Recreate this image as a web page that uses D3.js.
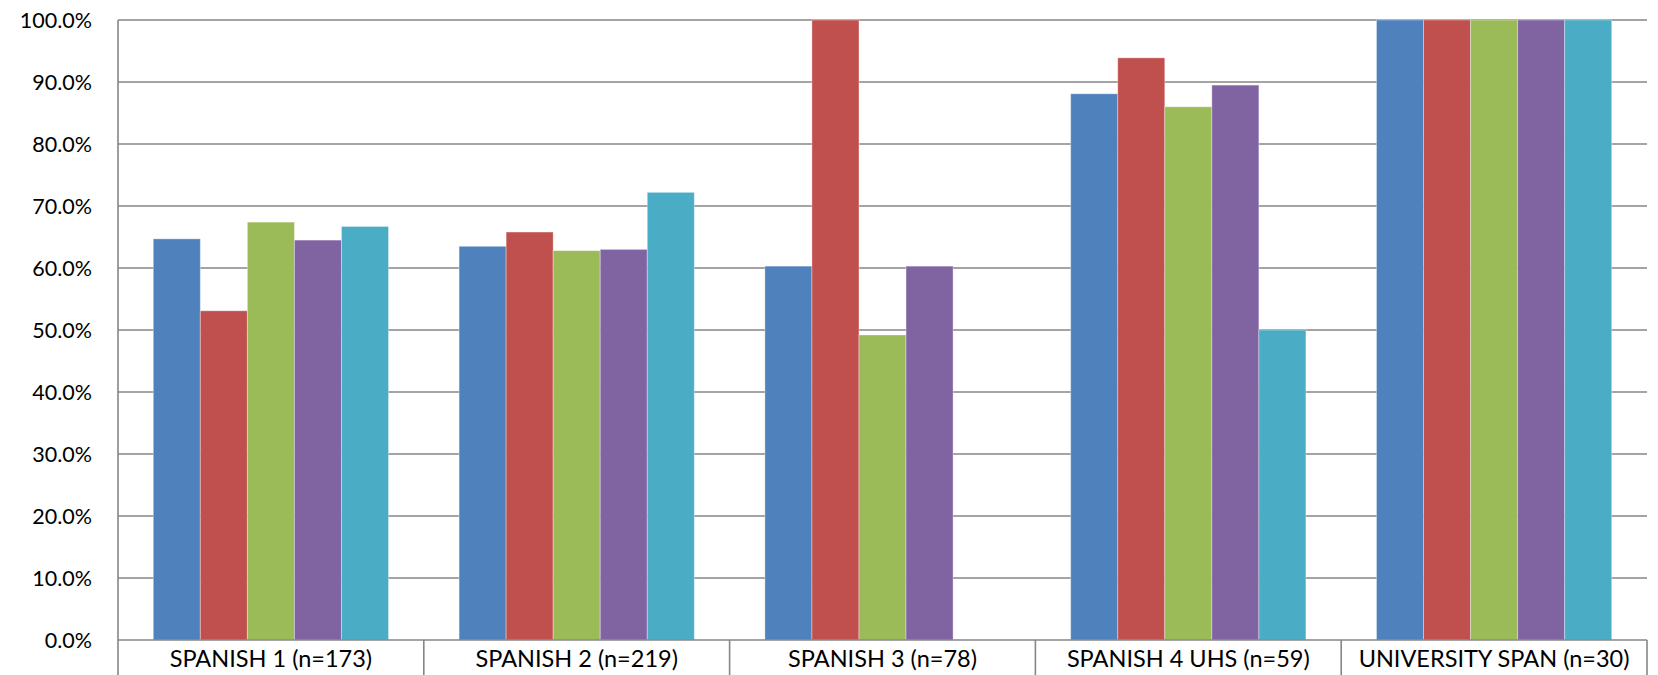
<!DOCTYPE html>
<html>
<head>
<meta charset="utf-8">
<script src="https://cdn.jsdelivr.net/npm/d3@7"></script>
<style>
  html, body { margin: 0; padding: 0; background: #fff; }
  svg { display: block; }
  text { font-family: Lato, "Open Sans", "Liberation Sans", sans-serif; fill: #000; }
</style>
</head>
<body>
<svg id="chart" width="1658" height="675"></svg>
<script>
// Course groups along the x axis
const categories = [
  "SPANISH 1 (n=173)",
  "SPANISH 2 (n=219)",
  "SPANISH 3 (n=78)",
  "SPANISH 4 UHS (n=59)",
  "UNIVERSITY SPAN (n=30)"
];

// Five series per course, percentages
const series1 = [64.7, 63.5, 60.3, 88.1, 100.0];
const series2 = [53.1, 65.8, 100.0, 93.9, 100.0];
const series3 = [67.4, 62.8, 49.2, 86.0, 100.0];
const series4 = [64.5, 63.0, 60.3, 89.5, 100.0];
const series5 = [66.7, 72.2, 0.0, 50.0, 100.0];

const seriesValues = [series1, series2, series3, series4, series5];
const seriesColors = ["#4f81bd", "#c0504d", "#9bbb59", "#8064a2", "#4bacc6"];

const yTicks = [0, 10, 20, 30, 40, 50, 60, 70, 80, 90, 100];

const W = 1658, H = 675;
const margin = { top: 20, right: 11, bottom: 35, left: 118 };
const plotW = W - margin.left - margin.right;
const plotH = H - margin.top - margin.bottom;

const svg = d3.select("#chart");
const g = svg.append("g").attr("transform", `translate(${margin.left},${margin.top})`);

const x0 = d3.scaleBand().domain(categories).range([0, plotW]).paddingInner(0).paddingOuter(0);
const x1 = d3.scaleBand().domain(d3.range(seriesValues.length))
  .range([0, x0.bandwidth()]).paddingOuter(0.75).paddingInner(0);
const y = d3.scaleLinear().domain([0, 100]).range([plotH, 0]);

// Horizontal gridlines
g.append("g")
  .selectAll("line")
  .data(yTicks.filter(t => t > 0))
  .join("line")
  .attr("x1", 0).attr("x2", plotW)
  .attr("y1", d => y(d)).attr("y2", d => y(d))
  .attr("stroke", "#868686").attr("stroke-width", 1.6);

// Bars
const rows = categories.map((c, i) => ({ cat: c, vals: seriesValues.map(s => s[i]) }));
g.append("g")
  .selectAll("g")
  .data(rows)
  .join("g")
  .attr("transform", d => `translate(${x0(d.cat)},0)`)
  .selectAll("rect")
  .data(d => d.vals.map((v, k) => ({ v, k })))
  .join("rect")
  .attr("x", d => x1(d.k))
  .attr("width", x1.bandwidth())
  .attr("y", d => y(d.v))
  .attr("height", d => y(0) - y(d.v))
  .attr("fill", d => seriesColors[d.k])
  .attr("stroke", "rgba(255,255,255,0.35)")
  .attr("stroke-width", 1);

// Y axis
const yAxis = d3.axisLeft(y).tickValues(yTicks).tickSize(0).tickPadding(26)
  .tickFormat(d => d3.format(".1f")(d) + "%");
const ya = g.append("g").call(yAxis);
ya.select(".domain").remove();
ya.selectAll("text").style("font-size", "21.5px").attr("dy", "0.35em");

// Left axis line
g.append("line")
  .attr("x1", 0).attr("x2", 0).attr("y1", 0).attr("y2", plotH)
  .attr("stroke", "#868686").attr("stroke-width", 1.6);

// X axis with category dividers extending below the baseline
const xa = g.append("g").attr("transform", `translate(0,${plotH})`);
xa.append("line")
  .attr("x1", 0).attr("x2", plotW).attr("y1", 0).attr("y2", 0)
  .attr("stroke", "#868686").attr("stroke-width", 1.6);
const dividers = categories.map(c => x0(c)).concat([plotW]);
xa.selectAll("line.div")
  .data(dividers)
  .join("line")
  .attr("class", "div")
  .attr("x1", d => d).attr("x2", d => d)
  .attr("y1", 0).attr("y2", margin.bottom)
  .attr("stroke", "#868686").attr("stroke-width", 1.6);
xa.selectAll("text")
  .data(categories)
  .join("text")
  .attr("x", d => x0(d) + x0.bandwidth() / 2)
  .attr("y", 19)
  .attr("dy", "0.35em")
  .attr("text-anchor", "middle")
  .style("font-size", "23.5px")
  .text(d => d);
</script>
</body>
</html>
